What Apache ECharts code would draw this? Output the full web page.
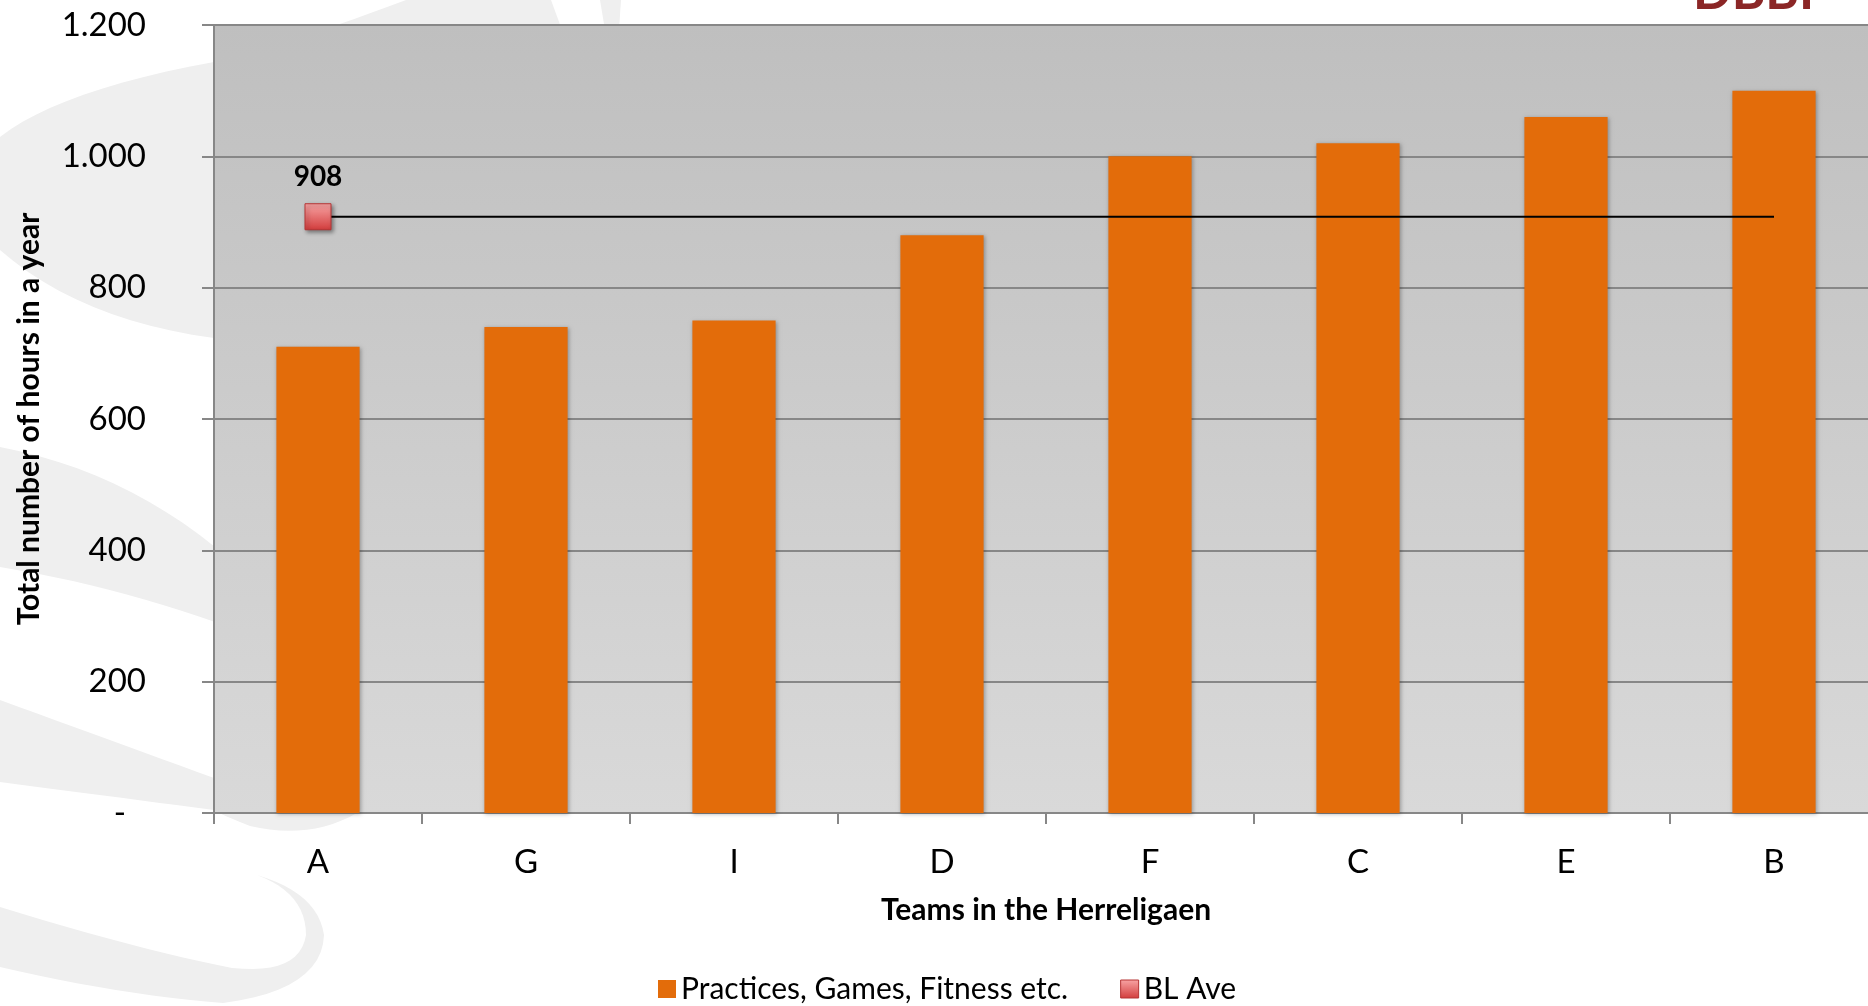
<!DOCTYPE html>
<html>
<head>
<meta charset="utf-8">
<script src="https://cdn.jsdelivr.net/npm/echarts@6/dist/echarts.min.js"></script>
<style>
  html, body { margin: 0; padding: 0; background: #fff; overflow: hidden; }
  #main { width: 1878px; height: 1006px; }
</style>
</head>
<body>
<div id="main"></div>
<script>
var teams = ['A', 'G', 'I', 'D', 'F', 'C', 'E', 'B'];
var hours = [710, 740, 750, 880, 1000, 1020, 1060, 1100];
var blAve = [908, 908, 908, 908, 908, 908, 908, 908];
var yTicks = [0, 200, 400, 600, 800, 1000, 1200];

var FONT = 'Lato';
var GRID_GRAY = '#878787';
var SWOOSH = '#efefef';

// sample quadratic curves into polygon points for the background swooshes
// a segment is either a point [x, y] or a curve [[cx, cy], [x, y]]
function curve(start, segs) {
    var pts = [start];
    var p0 = start;
    segs.forEach(function (s) {
        if (!Array.isArray(s[0])) { pts.push(s); p0 = s; return; }
        var c = s[0], p1 = s[1];
        for (var i = 1; i <= 12; i++) {
            var t = i / 12;
            var a = (1 - t) * (1 - t), b = 2 * (1 - t) * t, d = t * t;
            pts.push([a * p0[0] + b * c[0] + d * p1[0], a * p0[1] + b * c[1] + d * p1[1]]);
        }
        p0 = p1;
    });
    return pts;
}

var swooshes = [
    curve([0, 137], [[[60, 90], [214, 62]], [[300, 40], [406, 0]], [551, 0], [562, 30], [560, 350], [214, 338], [[80, 320], [0, 250]]]),
    curve([0, 447], [[[120, 470], [215, 547]], [400, 600], [215, 622], [[110, 585], [0, 567]]]),
    curve([0, 700], [[[110, 740], [214, 778]], [400, 700], [380, 800], [357, 813], [[310, 840], [250, 826]], [[215, 812], [214, 810]], [[100, 795], [0, 782]]]),
    curve([0, 907], [[[140, 950], [232, 968]], [[300, 975], [306, 935]], [[306, 893], [257, 875]], [[318, 893], [324, 935]], [[322, 990], [223, 1003]], [[120, 995], [0, 967]]]),
    [[600, 0], [621, 0], [619, 30], [605, 30]]
];

var markerStyle = {
    color: {
        type: 'linear', x: 0, y: 0, x2: 0, y2: 1,
        colorStops: [{ offset: 0, color: '#f8a5a5' }, { offset: 1, color: '#d23c3c' }]
    },
    borderColor: '#b53434',
    borderWidth: 1
};

var chart = echarts.init(document.getElementById('main'));

option = {
    backgroundColor: '#fff',
    animation: false,
    textStyle: { fontFamily: FONT },
    graphic: swooshes.map(function (pts) {
        return { type: 'polygon', z: -10, silent: true, shape: { points: pts }, style: { fill: SWOOSH } };
    }).concat([{
        type: 'text', z: -5, left: 1693, top: -33,
        style: { text: 'DBBF', font: 'bold 51px ' + FONT, fill: '#8b2626' }
    }]),
    grid: {
        show: true,
        left: 214,
        top: 25,
        right: 0,
        bottom: 193,
        borderWidth: 0,
        backgroundColor: {
            type: 'linear', x: 0, y: 0, x2: 0, y2: 1,
            colorStops: [{ offset: 0, color: '#bfbfbf' }, { offset: 1, color: '#d9d9d9' }]
        }
    },
    legend: {
        left: 653,
        top: 969,
        itemWidth: 18,
        itemHeight: 18,
        itemGap: 52,
        textStyle: { fontSize: 30, color: '#000', fontFamily: FONT },
        data: [
            { name: 'Practices, Games, Fitness etc.', icon: 'rect' },
            { name: 'BL Ave', icon: 'rect', itemStyle: markerStyle }
        ]
    },
    xAxis: {
        type: 'category',
        data: teams,
        name: 'Teams in the Herreligaen',
        nameLocation: 'middle',
        nameGap: 82,
        nameTextStyle: { fontSize: 30, fontWeight: 'bold', color: '#000', fontFamily: FONT },
        axisLine: { lineStyle: { color: GRID_GRAY, width: 2 } },
        axisTick: { show: true, length: 11, lineStyle: { color: GRID_GRAY, width: 2 } },
        axisLabel: { fontSize: 33, color: '#000', margin: 33, fontFamily: FONT }
    },
    yAxis: {
        type: 'value',
        min: 0,
        max: 1200,
        interval: 200,
        name: 'Total number of hours in a year',
        nameLocation: 'middle',
        nameGap: 170,
        nameTextStyle: { fontSize: 30, fontWeight: 'bold', color: '#000', fontFamily: FONT },
        axisLine: { show: true, lineStyle: { color: GRID_GRAY, width: 2 } },
        axisTick: { show: true, length: 12, lineStyle: { color: GRID_GRAY, width: 2 } },
        splitLine: { show: true, lineStyle: { color: GRID_GRAY, width: 2 } },
        axisLabel: {
            fontSize: 33,
            color: '#000',
            margin: 68,
            fontFamily: FONT,
            formatter: function (v) {
                if (v === 0) return '{d|-}';
                return String(v).replace(/\B(?=(\d{3})+(?!\d))/g, '.');
            },
            rich: { d: { fontSize: 33, color: '#000', padding: [0, 20, 0, 0], fontFamily: FONT } }
        }
    },
    series: [
        {
            name: 'Practices, Games, Fitness etc.',
            type: 'bar',
            barWidth: '40%',
            color: '#e36c0a',
            itemStyle: {
                color: '#e36c0a',
                shadowBlur: 4,
                shadowColor: 'rgba(0,0,0,0.3)',
                shadowOffsetX: 1,
                shadowOffsetY: 1
            },
            data: hours
        },
        {
            name: 'BL Ave',
            type: 'line',
            color: '#d23c3c',
            z: 5,
            lineStyle: { color: '#000', width: 2 },
            showAllSymbol: true,
            itemStyle: Object.assign({ shadowBlur: 4, shadowColor: 'rgba(0,0,0,0.4)', shadowOffsetX: 2, shadowOffsetY: 2 }, markerStyle),
            data: blAve.map(function (v, i) {
                if (i === 0) {
                    return {
                        value: v,
                        symbol: 'rect',
                        symbolSize: 26,
                        label: {
                            show: true,
                            position: 'top',
                            distance: 12,
                            fontSize: 28,
                            fontWeight: 'bold',
                            color: '#000',
                            fontFamily: FONT
                        }
                    };
                }
                return { value: v, symbol: 'none' };
            })
        }
    ]
};
chart.setOption(option);
</script>
</body>
</html>
